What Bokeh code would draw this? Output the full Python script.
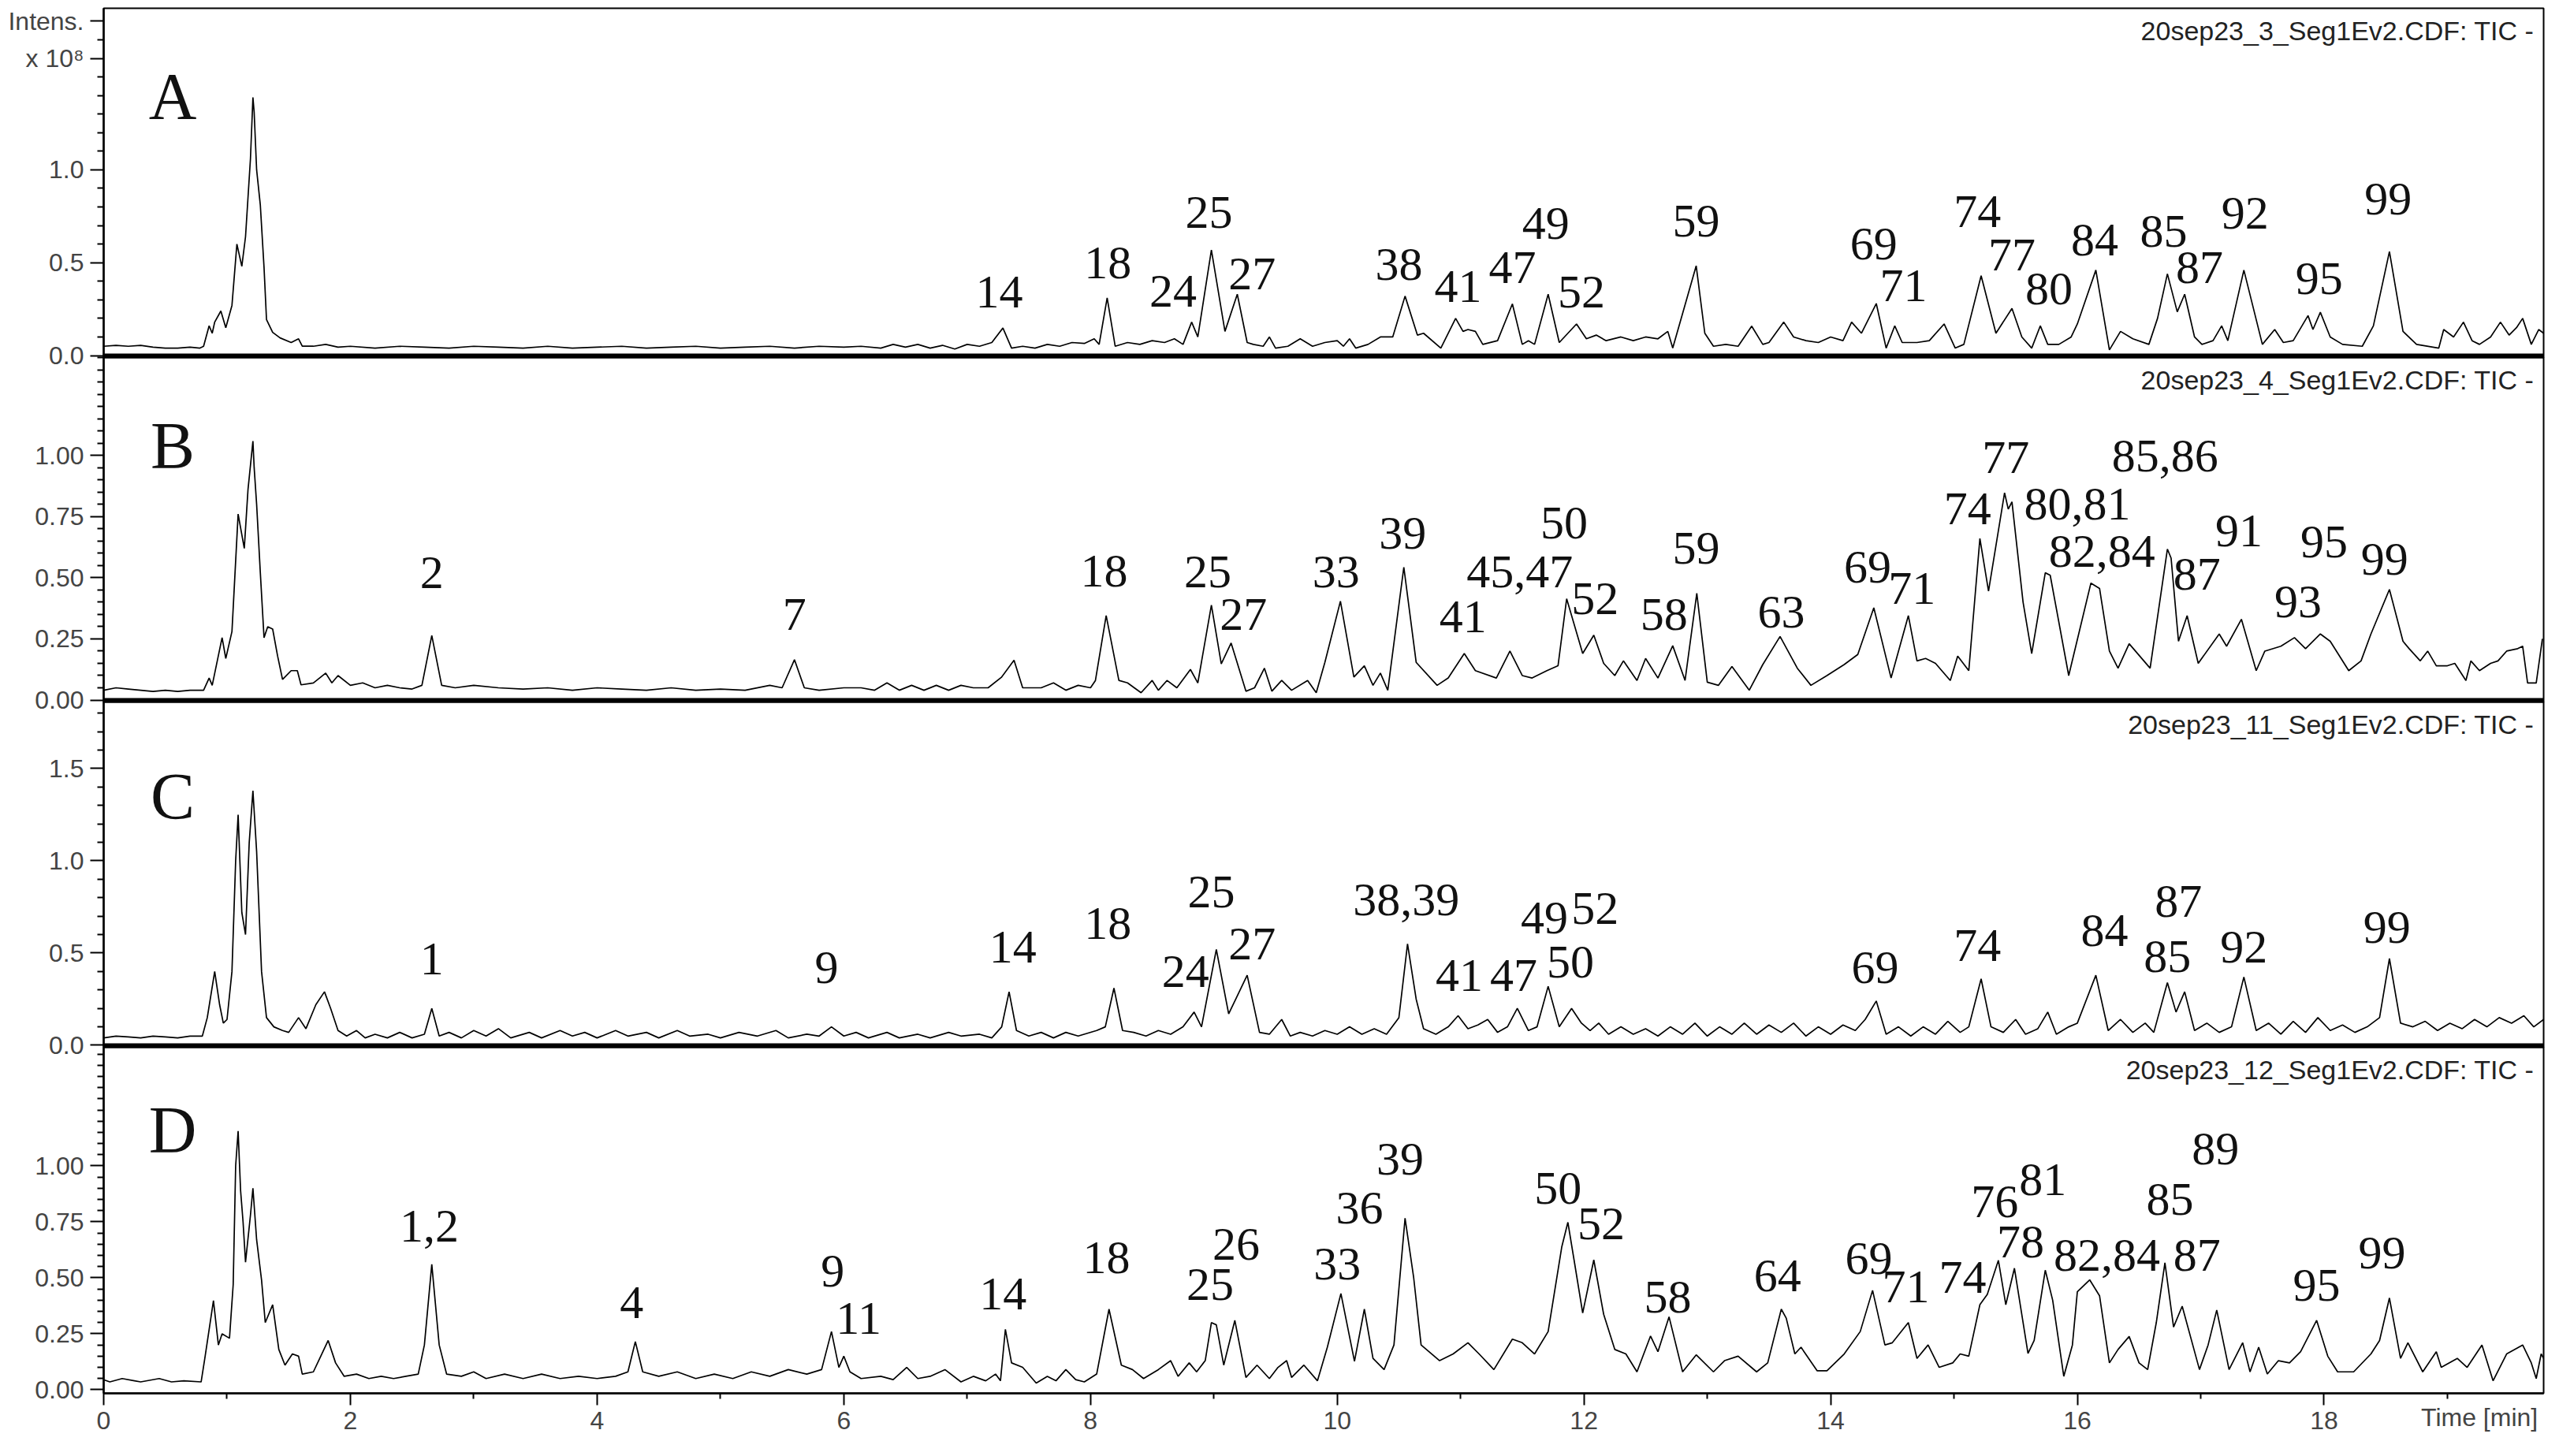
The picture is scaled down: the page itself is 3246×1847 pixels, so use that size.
from bokeh.plotting import figure
from bokeh.models import Range1d, FixedTicker, Label, Span, NumeralTickFormatter, LinearAxis
from bokeh.layouts import column
from bokeh.embed import file_html
from bokeh.resources import INLINE
from bokeh.core.properties import value

X_END = 19.78

# ---------------- data: retention time (min), intensity (x10^8) ----------------
A_time = [0.00,0.10,0.20,0.30,0.40,0.50,0.60,0.70,0.78,0.81,0.855,0.88,0.90,0.95,0.99,1.04,1.08,1.12,1.15,1.19,1.21,1.22,1.24,1.27,1.30,1.32,1.37,1.43,1.52,1.58,1.61,1.7,1.8,1.9,2.0,2.2,2.4,2.6,2.8,3.0,3.2,3.4,3.6,3.8,4.0,4.2,4.4,4.6,4.8,5.0,5.2,5.4,5.6,5.8,6.0,6.14,6.3,6.4,6.5,6.6,6.7,6.8,6.9,7.0,7.1,7.2,7.29,7.36,7.45,7.55,7.65,7.75,7.85,7.95,8.03,8.07,8.135,8.2,8.3,8.4,8.5,8.6,8.68,8.75,8.82,8.87,8.98,9.09,9.19,9.27,9.32,9.40,9.45,9.5,9.6,9.7,9.8,9.9,10.0,10.05,10.1,10.15,10.25,10.35,10.45,10.55,10.65,10.70,10.84,10.96,11.02,11.06,11.12,11.18,11.30,11.42,11.50,11.55,11.60,11.71,11.80,11.94,12.02,12.1,12.18,12.3,12.4,12.5,12.6,12.68,12.72,12.91,12.98,13.05,13.15,13.25,13.36,13.45,13.5,13.62,13.7,13.8,13.9,14.0,14.1,14.17,14.25,14.37,14.45,14.52,14.58,14.7,14.8,14.92,15.01,15.08,15.22,15.34,15.47,15.55,15.63,15.70,15.76,15.85,15.95,16.0,16.15,16.26,16.35,16.45,16.58,16.65,16.73,16.81,16.87,16.95,17.01,17.1,17.17,17.22,17.35,17.5,17.6,17.67,17.75,17.87,17.91,17.97,18.05,18.15,18.31,18.4,18.53,18.64,18.75,18.93,18.97,19.05,19.13,19.2,19.26,19.35,19.43,19.5,19.56,19.61,19.68,19.74,19.78]
A_int = [0.05,0.055,0.05,0.055,0.045,0.04,0.04,0.045,0.04,0.05,0.16,0.12,0.18,0.24,0.15,0.27,0.60,0.48,0.64,1.06,1.39,1.31,1.0,0.81,0.475,0.194,0.125,0.095,0.07,0.09,0.05,0.05,0.06,0.045,0.05,0.04,0.05,0.045,0.04,0.05,0.045,0.04,0.05,0.04,0.045,0.05,0.04,0.045,0.05,0.04,0.045,0.05,0.04,0.05,0.045,0.05,0.04,0.06,0.045,0.06,0.04,0.055,0.035,0.06,0.05,0.07,0.148,0.04,0.05,0.04,0.06,0.05,0.07,0.065,0.09,0.06,0.31,0.05,0.07,0.06,0.08,0.07,0.09,0.06,0.18,0.10,0.568,0.13,0.33,0.07,0.06,0.05,0.10,0.04,0.05,0.09,0.05,0.07,0.08,0.05,0.09,0.04,0.06,0.10,0.10,0.32,0.11,0.12,0.04,0.20,0.13,0.14,0.13,0.06,0.08,0.278,0.06,0.08,0.06,0.33,0.07,0.17,0.09,0.11,0.08,0.10,0.08,0.10,0.09,0.13,0.04,0.483,0.12,0.05,0.06,0.05,0.158,0.06,0.07,0.18,0.10,0.08,0.07,0.10,0.08,0.18,0.12,0.28,0.04,0.16,0.07,0.07,0.08,0.17,0.04,0.06,0.43,0.12,0.254,0.10,0.04,0.16,0.06,0.06,0.10,0.17,0.46,0.03,0.13,0.09,0.06,0.20,0.44,0.235,0.33,0.10,0.06,0.08,0.16,0.08,0.46,0.06,0.14,0.07,0.08,0.215,0.14,0.233,0.10,0.06,0.05,0.16,0.56,0.13,0.06,0.04,0.14,0.10,0.18,0.08,0.06,0.10,0.18,0.11,0.15,0.20,0.06,0.14,0.12]

B_time = [0.0,0.1,0.2,0.3,0.4,0.5,0.6,0.7,0.81,0.855,0.88,0.96,0.99,1.04,1.09,1.14,1.17,1.21,1.22,1.24,1.27,1.30,1.33,1.37,1.41,1.45,1.52,1.57,1.6,1.7,1.8,1.85,1.9,2.0,2.1,2.2,2.3,2.4,2.5,2.58,2.66,2.74,2.85,3.0,3.2,3.4,3.6,3.8,4.0,4.2,4.4,4.6,4.8,5.0,5.2,5.4,5.5,5.6,5.68,5.8,6.0,6.14,6.25,6.35,6.45,6.55,6.65,6.75,6.85,6.95,7.05,7.17,7.28,7.38,7.45,7.6,7.7,7.8,7.9,8.0,8.04,8.127,8.23,8.3,8.41,8.5,8.55,8.62,8.7,8.81,8.87,8.98,9.06,9.14,9.26,9.33,9.41,9.47,9.55,9.63,9.76,9.83,9.90,10.026,10.135,10.22,10.29,10.35,10.41,10.54,10.64,10.81,10.9,11.03,11.12,11.29,11.40,11.50,11.58,11.70,11.79,11.86,11.99,12.08,12.16,12.25,12.32,12.43,12.50,12.6,12.72,12.82,12.915,13.0,13.09,13.2,13.34,13.45,13.59,13.73,13.84,13.97,14.11,14.22,14.35,14.49,14.63,14.70,14.77,14.85,14.97,15.03,15.12,15.21,15.28,15.41,15.44,15.47,15.56,15.63,15.74,15.78,15.93,16.11,16.18,16.26,16.33,16.42,16.59,16.73,16.76,16.82,16.89,16.98,17.15,17.21,17.33,17.45,17.52,17.65,17.76,17.85,17.97,18.05,18.2,18.3,18.38,18.53,18.64,18.69,18.78,18.84,18.91,19.0,19.06,19.15,19.19,19.26,19.35,19.41,19.48,19.57,19.61,19.65,19.72,19.77]
B_int = [0.04,0.05,0.045,0.04,0.035,0.04,0.035,0.04,0.04,0.09,0.06,0.255,0.17,0.28,0.76,0.62,0.86,1.058,0.95,0.80,0.52,0.255,0.30,0.29,0.18,0.084,0.12,0.12,0.062,0.07,0.11,0.07,0.10,0.06,0.07,0.05,0.06,0.05,0.045,0.06,0.264,0.06,0.05,0.06,0.05,0.045,0.05,0.04,0.05,0.045,0.04,0.05,0.04,0.045,0.04,0.06,0.05,0.165,0.05,0.04,0.05,0.05,0.04,0.07,0.04,0.06,0.04,0.06,0.04,0.06,0.05,0.05,0.094,0.163,0.05,0.05,0.07,0.04,0.06,0.05,0.08,0.345,0.08,0.07,0.03,0.08,0.04,0.08,0.05,0.125,0.07,0.388,0.148,0.233,0.036,0.05,0.13,0.036,0.08,0.04,0.08,0.03,0.154,0.404,0.094,0.14,0.06,0.11,0.04,0.543,0.154,0.06,0.09,0.19,0.12,0.09,0.20,0.10,0.09,0.12,0.14,0.414,0.19,0.265,0.15,0.10,0.16,0.08,0.17,0.09,0.222,0.08,0.436,0.073,0.06,0.137,0.04,0.145,0.26,0.13,0.06,0.10,0.145,0.186,0.377,0.09,0.345,0.16,0.17,0.15,0.08,0.18,0.12,0.66,0.445,0.847,0.78,0.81,0.40,0.19,0.52,0.51,0.10,0.478,0.456,0.20,0.13,0.23,0.13,0.617,0.58,0.24,0.345,0.15,0.27,0.22,0.33,0.12,0.20,0.22,0.255,0.21,0.27,0.24,0.12,0.16,0.27,0.452,0.24,0.21,0.16,0.20,0.14,0.14,0.15,0.08,0.16,0.12,0.15,0.16,0.20,0.21,0.22,0.07,0.07,0.25]

C_time = [0.0,0.1,0.2,0.3,0.4,0.5,0.6,0.7,0.8,0.84,0.9,0.94,0.97,1.0,1.04,1.07,1.09,1.12,1.15,1.18,1.21,1.24,1.28,1.32,1.38,1.45,1.5,1.58,1.64,1.72,1.79,1.84,1.9,1.97,2.05,2.12,2.2,2.3,2.4,2.5,2.6,2.66,2.72,2.8,2.9,3.0,3.1,3.2,3.3,3.45,3.55,3.7,3.8,3.9,4.0,4.15,4.25,4.4,4.5,4.65,4.75,4.9,5.0,5.15,5.3,5.45,5.55,5.7,5.8,5.9,6.0,6.1,6.2,6.35,6.45,6.6,6.7,6.85,6.95,7.1,7.2,7.28,7.34,7.4,7.5,7.6,7.7,7.8,7.9,8.05,8.12,8.19,8.26,8.35,8.45,8.55,8.65,8.75,8.84,8.9,9.02,9.12,9.27,9.37,9.45,9.55,9.62,9.7,9.8,9.9,10.0,10.1,10.2,10.3,10.4,10.5,10.57,10.64,10.7,10.8,10.9,10.98,11.06,11.14,11.22,11.3,11.38,11.46,11.55,11.62,11.71,11.8,11.9,11.98,12.05,12.12,12.2,12.3,12.4,12.5,12.6,12.7,12.8,12.9,13.0,13.1,13.2,13.3,13.4,13.5,13.6,13.7,13.8,13.9,14.0,14.1,14.2,14.28,14.37,14.45,14.55,14.65,14.75,14.85,14.95,15.05,15.12,15.22,15.3,15.4,15.5,15.58,15.68,15.76,15.83,15.93,16.0,16.15,16.25,16.35,16.45,16.55,16.62,16.73,16.8,16.87,16.95,17.05,17.15,17.25,17.35,17.45,17.55,17.65,17.75,17.85,17.95,18.05,18.15,18.25,18.35,18.45,18.53,18.62,18.72,18.82,18.92,19.02,19.12,19.22,19.32,19.42,19.52,19.62,19.7,19.78]
C_int = [0.04,0.05,0.045,0.04,0.05,0.045,0.04,0.05,0.05,0.15,0.40,0.22,0.12,0.14,0.40,1.0,1.25,0.72,0.60,1.10,1.38,1.05,0.40,0.15,0.10,0.08,0.07,0.15,0.09,0.22,0.29,0.20,0.08,0.05,0.08,0.04,0.06,0.04,0.07,0.04,0.06,0.20,0.05,0.07,0.04,0.08,0.05,0.09,0.04,0.07,0.04,0.08,0.05,0.07,0.04,0.08,0.05,0.07,0.04,0.08,0.05,0.06,0.04,0.07,0.05,0.08,0.04,0.06,0.05,0.10,0.05,0.07,0.04,0.07,0.04,0.06,0.04,0.07,0.05,0.06,0.04,0.10,0.29,0.08,0.05,0.07,0.04,0.07,0.05,0.08,0.10,0.31,0.08,0.07,0.05,0.08,0.06,0.10,0.18,0.10,0.52,0.17,0.38,0.07,0.06,0.14,0.05,0.07,0.05,0.08,0.06,0.10,0.06,0.09,0.06,0.15,0.55,0.25,0.09,0.06,0.10,0.16,0.09,0.11,0.14,0.07,0.10,0.20,0.08,0.10,0.32,0.10,0.20,0.12,0.08,0.12,0.06,0.10,0.06,0.09,0.05,0.10,0.06,0.12,0.05,0.10,0.06,0.12,0.06,0.11,0.07,0.12,0.05,0.10,0.06,0.11,0.08,0.14,0.24,0.06,0.10,0.05,0.10,0.06,0.13,0.07,0.10,0.36,0.10,0.07,0.14,0.06,0.09,0.18,0.06,0.10,0.12,0.38,0.08,0.14,0.07,0.12,0.07,0.34,0.18,0.29,0.08,0.12,0.07,0.10,0.37,0.08,0.12,0.06,0.13,0.07,0.15,0.08,0.11,0.07,0.10,0.15,0.47,0.12,0.10,0.13,0.08,0.12,0.09,0.14,0.10,0.15,0.12,0.16,0.10,0.14]

D_time = [0.0,0.05,0.15,0.25,0.3,0.45,0.55,0.65,0.79,0.82,0.89,0.93,0.96,1.02,1.05,1.07,1.09,1.11,1.13,1.15,1.19,1.21,1.24,1.28,1.31,1.37,1.42,1.47,1.53,1.58,1.61,1.7,1.76,1.82,1.88,1.95,2.05,2.15,2.25,2.35,2.45,2.55,2.6,2.66,2.72,2.78,2.9,3.0,3.1,3.25,3.4,3.55,3.7,3.85,4.0,4.15,4.25,4.31,4.37,4.5,4.65,4.8,4.95,5.1,5.25,5.4,5.55,5.7,5.82,5.9,5.96,6.0,6.05,6.14,6.3,6.4,6.51,6.6,6.7,6.82,6.95,7.05,7.15,7.23,7.27,7.31,7.36,7.45,7.56,7.65,7.72,7.8,7.88,7.95,8.05,8.15,8.25,8.34,8.43,8.55,8.65,8.71,8.8,8.86,8.93,8.98,9.02,9.08,9.17,9.26,9.35,9.45,9.52,9.59,9.63,9.73,9.84,9.92,10.03,10.14,10.22,10.29,10.38,10.46,10.55,10.62,10.68,10.83,10.94,11.06,11.15,11.27,11.42,11.5,11.6,11.71,11.82,11.87,11.92,11.99,12.08,12.16,12.25,12.34,12.43,12.54,12.6,12.69,12.8,12.91,13.05,13.14,13.25,13.40,13.49,13.60,13.64,13.71,13.76,13.89,13.97,14.11,14.24,14.34,14.44,14.5,14.63,14.70,14.79,14.88,14.99,15.05,15.12,15.21,15.27,15.36,15.42,15.49,15.60,15.65,15.74,15.8,15.89,15.96,16.0,16.10,16.18,16.26,16.33,16.42,16.5,16.57,16.64,16.71,16.78,16.85,16.99,17.06,17.13,17.23,17.34,17.40,17.47,17.54,17.63,17.72,17.81,17.94,18.03,18.11,18.24,18.38,18.45,18.53,18.62,18.68,18.8,18.91,18.95,19.08,19.16,19.28,19.37,19.48,19.61,19.68,19.72,19.76,19.78]
D_int = [0.045,0.035,0.05,0.04,0.035,0.05,0.035,0.04,0.035,0.14,0.398,0.20,0.25,0.23,0.47,1.0,1.156,0.89,0.75,0.57,0.78,0.90,0.67,0.49,0.30,0.38,0.18,0.11,0.16,0.15,0.07,0.08,0.15,0.22,0.12,0.06,0.07,0.05,0.06,0.05,0.06,0.07,0.20,0.56,0.20,0.07,0.06,0.08,0.05,0.07,0.05,0.07,0.05,0.06,0.05,0.06,0.08,0.215,0.08,0.06,0.08,0.05,0.07,0.05,0.08,0.06,0.09,0.07,0.09,0.26,0.10,0.15,0.08,0.05,0.06,0.045,0.10,0.05,0.06,0.09,0.035,0.06,0.04,0.07,0.04,0.27,0.12,0.10,0.03,0.06,0.04,0.09,0.045,0.035,0.07,0.36,0.11,0.09,0.05,0.09,0.13,0.06,0.12,0.08,0.13,0.30,0.29,0.11,0.31,0.055,0.11,0.05,0.10,0.13,0.055,0.11,0.04,0.19,0.43,0.127,0.36,0.14,0.09,0.20,0.766,0.50,0.20,0.13,0.16,0.21,0.16,0.09,0.226,0.21,0.16,0.26,0.637,0.748,0.58,0.343,0.58,0.337,0.18,0.16,0.08,0.24,0.17,0.326,0.08,0.156,0.08,0.13,0.15,0.08,0.12,0.36,0.32,0.16,0.19,0.085,0.085,0.16,0.26,0.444,0.20,0.21,0.30,0.14,0.20,0.10,0.12,0.16,0.15,0.38,0.426,0.578,0.38,0.543,0.162,0.22,0.534,0.40,0.06,0.20,0.438,0.491,0.42,0.12,0.18,0.238,0.12,0.09,0.30,0.567,0.28,0.373,0.09,0.20,0.356,0.09,0.21,0.08,0.19,0.07,0.13,0.12,0.17,0.31,0.15,0.08,0.08,0.16,0.22,0.41,0.14,0.21,0.08,0.17,0.10,0.14,0.10,0.20,0.04,0.16,0.20,0.12,0.05,0.16,0.14]

# ---------------- peak annotations ----------------
A_lab = ["14","18","24","25","27","38","41","47","49","52","59","69","71","74","77","80","84","85","87","92","95","99"]
A_lab_t = [7.26,8.14,8.67,8.96,9.31,10.50,10.98,11.42,11.69,11.98,12.91,14.35,14.59,15.19,15.47,15.77,16.14,16.70,16.99,17.36,17.96,18.52]
A_lab_v = [0.34,0.50,0.345,0.77,0.44,0.49,0.37,0.475,0.71,0.34,0.725,0.60,0.377,0.775,0.54,0.357,0.624,0.667,0.475,0.767,0.412,0.843]

B_lab = ["2","7","18","25","27","33","39","41","45,47","50","52","58","59","63","69","71","74","77","80,81","82,84","85,86","87","91","93","95","99"]
B_lab_t = [2.66,5.60,8.11,8.95,9.24,9.99,10.53,11.02,11.48,11.84,12.09,12.65,12.91,13.60,14.30,14.66,15.11,15.42,16.00,16.20,16.71,16.97,17.31,17.79,18.0,18.49]
B_lab_v = [0.52,0.35,0.527,0.523,0.35,0.523,0.683,0.34,0.523,0.724,0.413,0.35,0.62,0.36,0.543,0.457,0.78,0.99,0.80,0.607,0.997,0.513,0.69,0.40,0.645,0.575]

C_lab = ["1","9","14","18","24","25","27","38,39","41","47","49","50","52","69","74","84","85","87","92","99"]
C_lab_t = [2.66,5.86,7.37,8.14,8.77,8.98,9.31,10.56,10.99,11.43,11.68,11.89,12.09,14.36,15.19,16.22,16.73,16.82,17.35,18.51]
C_lab_v = [0.47,0.42,0.53,0.66,0.40,0.83,0.55,0.79,0.38,0.38,0.69,0.45,0.74,0.42,0.54,0.62,0.48,0.78,0.53,0.64]

D_lab = ["1,2","4","9","11","14","18","25","26","33","36","39","50","52","58","64","69","71","74","76","78","81","82,84","85","87","89","95","99"]
D_lab_t = [2.64,4.28,5.91,6.12,7.29,8.13,8.97,9.18,10.0,10.18,10.51,11.79,12.14,12.68,13.57,14.31,14.61,15.07,15.33,15.54,15.72,16.24,16.75,16.97,17.12,17.94,18.47]
D_lab_v = [0.73,0.39,0.53,0.32,0.426,0.59,0.47,0.65,0.56,0.81,1.03,0.90,0.74,0.415,0.51,0.585,0.46,0.50,0.84,0.66,0.94,0.60,0.85,0.60,1.077,0.468,0.61]

X_MAJOR = [0, 2, 4, 6, 8, 10, 12, 14, 16, 18]
X_MINOR = [1, 3, 5, 7, 9, 11, 13, 15, 17, 19]
X_TITLE = "Time [min]"

FRAME_W = 3095
BORDER_L = 131
BORDER_R = 4
PAD = 22          # extra canvas above/below each frame so edge tick labels are not cut
SERIF = "Liberation Serif"
SANS = "Liberation Sans"
GREY = "#444444"


def style_yaxis(ya, majors, minors, fmt, overrides=None):
    ya.ticker = FixedTicker(ticks=majors, minor_ticks=minors)
    ya.formatter = NumeralTickFormatter(format=fmt)
    if overrides:
        ya.major_label_overrides = overrides
    ya.axis_line_width = 2.5
    ya.major_tick_out = 17
    ya.major_tick_in = 0
    ya.minor_tick_out = 8
    ya.minor_tick_in = 0
    ya.major_tick_line_width = 2
    ya.minor_tick_line_width = 2
    ya.major_label_text_font = SANS
    ya.major_label_text_font_size = "32px"
    ya.major_label_text_color = GREY
    ya.major_label_standoff = 8


def make_panel(t, v, lab, lab_t, lab_v, yr, majors, minors, fmt, header, letter, letter_v,
               frame_h, top_border, is_bottom, first, overrides=None):
    p = figure(frame_width=FRAME_W, frame_height=frame_h,
               x_range=Range1d(0, X_END), y_range=Range1d(*yr),
               output_backend="svg", toolbar_location=None,
               min_border_left=BORDER_L, min_border_right=BORDER_R,
               min_border_top=top_border, min_border_bottom=(10 if is_bottom else PAD))
    if not first:
        p.margin = (-2 * PAD, 0, 0, 0)
    p.grid.visible = False
    p.outline_line_color = "black"
    p.outline_line_width = 2
    p.background_fill_color = None
    p.border_fill_color = None

    p.line(t, v, line_color="black", line_width=1.7)

    p.text(x=lab_t, y=lab_v, text=lab, text_font=value(SERIF),
           text_font_size=value("60px"), text_align="center",
           text_baseline="middle", text_color="#111111")

    p.add_layout(Label(x=0.56, y=letter_v, text=letter, text_font=SERIF,
                       text_font_size="84px", text_align="center",
                       text_baseline="middle", text_color="#111111"))

    ppu = frame_h / (yr[1] - yr[0])
    p.add_layout(Label(x=X_END - 12 / 156.4, y=yr[1] - 9 / ppu, text=header,
                       text_font=SANS, text_font_size="34px", text_align="right",
                       text_baseline="top", text_color="#222222"))

    style_yaxis(p.yaxis[0], majors, minors, fmt, overrides)

    xa = p.xaxis[0]
    if is_bottom:
        xa.ticker = FixedTicker(ticks=X_MAJOR, minor_ticks=X_MINOR)
        xa.axis_line_width = 2.5
        xa.major_tick_out = 15
        xa.major_tick_in = 0
        xa.minor_tick_out = 7
        xa.minor_tick_in = 0
        xa.major_tick_line_width = 2
        xa.minor_tick_line_width = 2
        xa.major_label_text_font = SANS
        xa.major_label_text_font_size = "32px"
        xa.major_label_text_color = GREY
        xa.major_label_standoff = 8
        # second axis below carries only the axis title, pulled up onto the tick-label row
        xl = LinearAxis(ticker=FixedTicker(ticks=[19.26], minor_ticks=[]),
                        major_label_overrides={19.26: X_TITLE})
        xl.axis_line_color = None
        xl.major_tick_line_color = None
        xl.minor_tick_line_color = None
        xl.major_tick_out = 0
        xl.major_tick_in = 0
        xl.minor_tick_out = 0
        xl.minor_tick_in = 0
        xl.major_label_text_font = SANS
        xl.major_label_text_font_size = "32px"
        xl.major_label_text_color = GREY
        xl.major_label_standoff = -36
        p.add_layout(xl, "below")
    else:
        xa.visible = False
        p.add_layout(Span(location=0, dimension="width", line_color="black", line_width=5))
    return p


minA = [round(0.1 * i, 2) for i in range(1, 19) if i not in (5, 10, 16, 18)]
minC = [round(0.1 * i, 2) for i in range(1, 19) if i not in (5, 10, 15)]
minB = [round(0.05 * i, 2) for i in range(1, 29) if i not in (5, 10, 15, 20)]
minD = [round(0.05 * i, 2) for i in range(1, 31) if i not in (5, 10, 15, 20)]

pA = make_panel(A_time, A_int, A_lab, A_lab_t, A_lab_v, (-0.0106, 1.87), [0, 0.5, 1.0, 1.6, 1.8], minA, "0.0",
                "20sep23_3_Seg1Ev2.CDF: TIC -", "A", 1.395, 443, 10, False, True,
                overrides={1.6: "x 10\u2078", 1.8: "Intens."})
pB = make_panel(B_time, B_int, B_lab, B_lab_t, B_lab_v, (-0.008, 1.40), [0, 0.25, 0.5, 0.75, 1.0], minB, "0.00",
                "20sep23_4_Seg1Ev2.CDF: TIC -", "B", 1.04, 437, PAD, False, False)
pC = make_panel(C_time, C_int, C_lab, C_lab_t, C_lab_v, (-0.0107, 1.861), [0, 0.5, 1.0, 1.5], minC, "0.0",
                "20sep23_11_Seg1Ev2.CDF: TIC -", "C", 1.35, 438, PAD, False, False)
pD = make_panel(D_time, D_int, D_lab, D_lab_t, D_lab_v, (-0.016, 1.53), [0, 0.25, 0.5, 0.75, 1.0], minD, "0.00",
                "20sep23_12_Seg1Ev2.CDF: TIC -", "D", 1.16, 439, PAD, True, False)

layout = column(pA, pB, pC, pD, spacing=0)
open("out.html", "w").write(file_html(layout, INLINE))
